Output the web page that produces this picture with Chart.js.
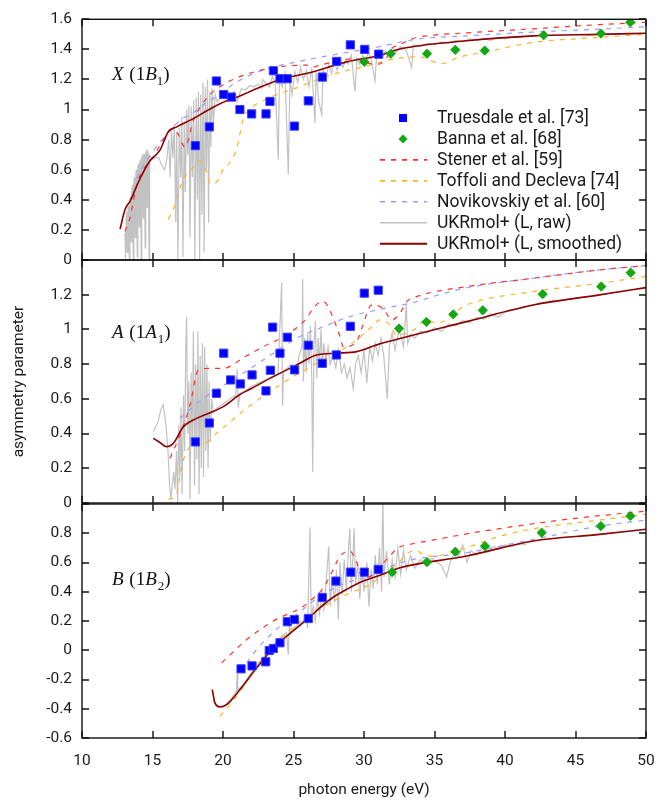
<!DOCTYPE html>
<html>
<head>
<meta charset="utf-8">
<script src="https://cdn.jsdelivr.net/npm/chart.js@4.4.1/dist/chart.umd.min.js"></script>
<style>
  body { margin: 0; background: #fff; }
  #wrap { position: relative; width: 671px; height: 800px; }
  #wrap canvas { position: absolute; left: 0; top: 0; }
</style>
</head>
<body>
<div id="wrap">
  <canvas id="panelX" width="671" height="800"></canvas>
  <canvas id="panelA" width="671" height="800"></canvas>
  <canvas id="panelB" width="671" height="800"></canvas>
</div>
<script>
const seriesLabels = ['Truesdale et al. [73]', 'Banna et al. [68]', 'Stener et al. [59]',
  'Toffoli and Decleva [74]', 'Novikovskiy et al. [60]', 'UKRmol+ (L, raw)', 'UKRmol+ (L, smoothed)'];
const xTicks = [10, 15, 20, 25, 30, 35, 40, 45, 50];
const rangeX = [0, 1.6];
const rangeA = [0, 1.4];
const rangeB = [-0.6, 1.0];

// ---- X (1B1) panel ----
const truesdaleX = [[18.04,0.76],[19.03,0.885],[19.53,1.19],[20.05,1.10],[20.6,1.083],[21.2,1.0],[22.03,0.971],
  [23.05,0.971],[23.33,1.054],[23.57,1.258],[24.04,1.205],[24.56,1.205],[25.06,0.89],[26.05,1.058],
  [27.04,1.216],[28.06,1.32],[29.03,1.43],[30.05,1.40],[31.04,1.368]];
const bannaX = [[30.02,1.317],[31.9,1.371],[34.47,1.371],[36.47,1.397],[38.56,1.392],[42.74,1.494],[46.8,1.505],[48.89,1.58]];
const stenerX = [[13.05,0.19],[13.4,0.28],[13.88,0.5],[14.35,0.6],[14.94,0.67],[15.77,0.8],[16.36,0.87],[16.8,0.84],
  [17.07,0.78],[17.3,0.75],[17.9,0.93],[18.37,1.015],[19.08,1.1],[20.02,1.166],[20.97,1.21],[22.39,1.255],
  [24.04,1.285],[25.94,1.295],[26.3,1.28],[26.7,1.29],[27.82,1.317],[29.24,1.338],[30.0,1.32],[30.43,1.305],
  [30.9,1.30],[31.5,1.33],[32.0,1.41],[32.43,1.425],[33.38,1.47],[34.45,1.49],[37.28,1.51],[42,1.537],[46.7,1.565],[50,1.58]];
const toffoliX = [[16.12,0.27],[16.6,0.367],[17.19,0.54],[17.78,0.604],[18.37,0.659],[18.84,0.583],[19.08,0.507],
  [19.55,0.518],[20.02,0.604],[20.6,0.66],[21.0,0.75],[21.44,0.94],[21.8,0.993],[23.33,1.08],[25.22,1.144],
  [27.59,1.23],[29.95,1.284],[32.3,1.339],[33.97,1.35],[35.0,1.315],[35.6,1.306],[36.5,1.34],[37.28,1.36],
  [38.46,1.38],[42,1.446],[46.7,1.48],[50,1.5]];
const novikX = [[13.88,0.54],[14.35,0.626],[15.77,0.81],[16.95,0.928],[17.9,0.98],[18.84,1.047],[19.79,1.1],
  [20.73,1.17],[22.86,1.263],[25.22,1.317],[27.59,1.36],[30.9,1.414],[33.73,1.468],[37.28,1.49],[42,1.515],
  [46.7,1.535],[50,1.55]];
const rawX = [[13.05,0.18],[13.08,0.0],[13.1,0.02],[13.13,0.28],[13.15,0.32],[13.19,0.1],[13.22,0.05],[13.26,0.34],
  [13.3,0.36],[13.33,0.15],[13.36,0.0],[13.4,0.4],[13.44,0.42],[13.47,0.2],[13.5,0.12],[13.54,0.47],
  [13.58,0.5],[13.61,0.25],[13.64,0.0],[13.68,0.53],[13.72,0.55],[13.75,0.3],[13.78,0.15],[13.82,0.58],
  [13.86,0.6],[13.89,0.3],[13.92,0.02],[13.96,0.62],[14.0,0.63],[14.03,0.4],[14.06,0.22],[14.1,0.65],[14.14,0.66],
  [14.17,0.35],[14.2,0.0],[14.24,0.68],[14.28,0.69],[14.31,0.45],[14.34,0.28],[14.38,0.7],[14.42,0.7],[14.45,0.3],
  [14.48,0.08],[14.52,0.71],[14.56,0.72],[14.59,0.5],[14.62,0.35],[14.66,0.72],[14.7,0.71],[14.73,0.3],[14.76,0.0],
  [14.8,0.68],[14.84,0.69],[15.0,0.67],[15.2,0.68],[15.45,0.68],[15.65,0.63],[15.85,0.6],[16.0,0.66],[16.15,0.8],[16.25,0.55],
  [16.35,0.86],[16.45,0.68],[16.55,0.9],[16.65,0.25],[16.72,0.85],[16.8,0.0],[16.9,0.88],[17.0,0.55],[17.08,0.95],
  [17.16,0.02],[17.25,0.92],[17.33,0.45],[17.42,1.0],[17.5,0.7],[17.58,1.03],[17.66,0.15],[17.75,1.02],[17.83,0.55],
  [17.92,1.06],[18.0,0.0],[18.1,1.08],[18.18,0.4],[18.26,1.12],[18.34,0.0],[18.42,1.1],[18.5,0.3],[18.58,1.18],
  [18.66,0.05],[18.74,1.15],[18.82,0.6],[18.9,1.2],[18.98,0.25],[19.06,1.12],[19.14,0.75],[19.22,1.14],[19.32,0.9],
  [19.45,1.1],[19.6,1.05],[19.8,1.08],[20.0,1.1],[20.2,1.08],[20.5,1.1],[20.8,1.12],[21.0,1.05],[21.3,1.14],
  [21.6,1.13],[21.9,1.16],[22.2,1.15],[22.5,1.17],[22.74,1.14],[22.8,1.2],[23.0,1.18],[23.3,1.15],[23.5,1.22],
  [23.7,1.18],[23.92,0.67],[24.0,1.2],[24.2,1.15],[24.4,1.24],[24.63,0.57],[24.75,1.2],[24.9,1.1],[25.1,1.25],
  [25.3,1.18],[25.5,1.28],[25.7,1.2],[25.9,1.26],[26.1,1.15],[26.3,1.28],[26.52,0.91],[26.6,1.25],[26.8,1.05],
  [27.0,0.97],[27.1,1.27],[27.3,1.2],[27.5,1.3],[27.7,1.24],[27.9,1.32],[28.1,1.26],[28.3,1.34],[28.5,1.28],
  [28.7,1.33],[28.9,1.3],[29.1,1.36],[29.36,1.12],[29.5,1.34],[29.7,1.3],[29.9,1.36],[30.1,1.32],[30.3,1.38],
  [30.5,1.34],[30.78,1.19],[30.9,1.37],[31.1,1.4],[31.3,1.35],[31.5,1.39],[31.8,1.37],[32.0,1.41],[32.3,1.38],
  [32.6,1.42],[33.0,1.39],[33.38,1.28],[33.5,1.43],[34.0,1.42],[34.5,1.44],[35.0,1.43],[35.5,1.45],[36.0,1.44],
  [36.5,1.46],[37.0,1.45],[37.5,1.47],[38.0,1.46],[38.5,1.47],[39.0,1.46],[39.5,1.48],[40.0,1.47],[40.5,1.48],[41.2,1.48]];
const smoothX = [[12.7,0.205],[13.05,0.335],[13.4,0.39],[14.11,0.54],[14.82,0.66],[15.53,0.73],[16.12,0.853],
  [16.72,0.885],[17.9,0.94],[19.08,1.004],[20.26,1.058],[21.2,1.09],[22.15,1.13],[24.04,1.198],[26.4,1.252],
  [28.77,1.317],[31.13,1.36],[32.55,1.403],[37.28,1.457],[42,1.49],[46.7,1.5],[50,1.507]];

// ---- A (1A1) panel ----
const truesdaleA = [[18.04,0.352],[19.03,0.461],[19.53,0.632],[20.05,0.863],[20.54,0.709],[21.23,0.686],[22.06,0.738],
  [23.05,0.646],[23.36,0.765],[23.52,1.013],[24.04,0.863],[24.56,0.955],[25.08,0.767],[26.05,0.909],[27.04,0.805],
  [28.04,0.853],[29.03,1.018],[30.02,1.209],[31.01,1.226]];
const bannaA = [[32.48,1.005],[34.42,1.043],[36.33,1.087],[38.42,1.11],[42.67,1.203],[46.83,1.247],[48.91,1.327]];
const stenerA = [[16.24,0.258],[16.95,0.392],[17.66,0.565],[18.25,0.767],[19.08,0.776],[20.02,0.776],[21.56,0.843],
  [22.86,0.901],[24.28,0.958],[25.94,1.065],[26.29,1.11],[27.0,1.16],[27.3,1.15],[27.82,1.064],[28.3,0.958],
  [28.53,0.9],[29.48,0.93],[29.84,1.007],[30.55,1.141],[31.37,1.12],[31.96,1.055],[32.55,1.093],[33.03,1.16],
  [33.73,1.189],[37.28,1.247],[42,1.295],[46.7,1.343],[50,1.368]];
const toffoliA = [[16.12,0.02],[16.72,0.056],[17.07,0.209],[17.66,0.324],[18.72,0.344],[19.55,0.402],[20.26,0.45],
  [21.68,0.546],[24.04,0.68],[26.4,0.795],[29.0,0.911],[30.43,1.007],[31.13,1.055],[31.84,1.026],[32.3,0.968],
  [33.5,0.997],[34.45,1.055],[35.15,1.036],[37.28,1.141],[42,1.218],[46.7,1.266],[50,1.305]];
const novikA = [[16.95,0.488],[18.6,0.603],[19.31,0.641],[21.68,0.76],[23.21,0.843],[25.22,0.949],[27.12,1.016],
  [29.0,1.074],[31.37,1.12],[33.73,1.16],[34.9,1.19],[37.28,1.24],[42,1.295],[46.7,1.343],[50,1.368]];
const rawA = [[15.06,0.41],[15.4,0.47],[15.6,0.54],[15.77,0.565],[15.95,0.45],[16.1,0.3],[16.2,0.12],[16.3,0.02],
  [16.4,0.1],[16.5,0.18],[16.6,0.08],[16.7,0.3],[16.78,0.0],[16.86,0.45],[16.94,0.15],[17.02,0.55],[17.1,0.05],
  [17.2,0.62],[17.28,0.3],[17.36,0.9],[17.42,1.07],[17.5,0.4],[17.58,0.7],[17.66,0.02],[17.74,0.75],[17.82,0.35],
  [17.9,0.99],[17.98,0.1],[18.06,0.8],[18.14,0.25],[18.22,0.99],[18.3,0.05],[18.38,0.85],[18.46,0.2],[18.54,0.92],
  [18.62,0.15],[18.7,0.9],[18.78,0.3],[18.86,0.8],[18.94,0.2],[19.02,0.7],[19.1,0.35],[19.2,0.6],[19.3,0.52],
  [19.6,0.55],[20.0,0.57],[20.5,0.6],[20.9,0.62],[21.0,0.77],[21.08,0.55],[21.2,0.63],[21.6,0.65],[22.0,0.67],
  [22.5,0.69],[23.0,0.71],[23.5,0.73],[23.9,0.74],[24.16,1.27],[24.22,0.56],[24.3,0.76],[24.6,0.78],[24.9,0.8],
  [25.2,0.76],[25.4,0.85],[25.6,0.9],[25.65,1.29],[25.7,0.7],[25.8,0.95],[25.9,0.75],[26.0,0.98],[26.1,0.8],
  [26.2,1.02],[26.3,0.7],[26.36,0.18],[26.45,0.9],[26.55,1.05],[26.65,0.72],[26.75,0.95],[26.85,0.8],[26.95,1.0],
  [27.05,0.78],[27.15,0.92],[27.3,0.82],[27.45,0.9],[27.6,0.8],[27.8,0.85],[28.0,0.78],[28.2,0.88],[28.4,0.75],
  [28.6,0.8],[28.8,0.72],[29.0,0.78],[29.24,0.66],[29.4,0.8],[29.6,0.85],[29.8,0.75],[30.0,0.88],[30.2,0.69],
  [30.4,0.9],[30.6,0.82],[30.8,0.92],[31.0,0.85],[31.2,0.95],[31.4,0.85],[31.65,0.6],[31.8,0.9],[32.0,0.98],
  [32.2,0.88],[32.5,1.0],[32.8,0.9],[33.0,1.14],[33.1,0.92],[33.3,0.97],[33.6,0.95],[34.0,0.99],[34.5,0.98],
  [35.0,1.01],[35.5,0.99],[36.0,1.03],[36.5,1.02],[37.0,1.05],[37.5,1.04],[38.0,1.07],[38.5,1.06],[39.0,1.09],
  [39.5,1.07],[40.0,1.1],[40.5,1.11],[41.0,1.12],[41.5,1.13],[42.0,1.14],[42.5,1.15],[43.0,1.16],[43.6,1.17]];
const smoothA = [[15.06,0.373],[15.5,0.35],[16.0,0.324],[16.48,0.344],[17.19,0.44],[17.9,0.478],[20.02,0.555],
  [21.2,0.625],[21.91,0.655],[23.57,0.728],[25.22,0.795],[26.64,0.853],[28.06,0.863],[29.48,0.872],[30.9,0.911],
  [33.03,0.958],[35.39,1.007],[37.28,1.045],[42,1.141],[46.7,1.199],[50,1.241]];

// ---- B (1B2) panel ----
const truesdaleB = [[21.28,-0.127],[22.06,-0.107],[23.03,-0.079],[23.28,-0.002],[23.57,0.012],[24.04,0.051],
  [24.56,0.195],[25.06,0.21],[26.05,0.217],[27.04,0.361],[28.01,0.473],[29.06,0.534],[30.02,0.534],[31.01,0.553]];
const bannaB = [[31.99,0.534],[34.47,0.603],[36.48,0.674],[38.58,0.712],[42.6,0.804],[46.8,0.849],[48.89,0.918]];
const stenerB = [[19.91,-0.086],[21.68,0.073],[23.57,0.2],[25.7,0.3],[26.29,0.347],[27.12,0.427],[27.82,0.553],
  [28.3,0.644],[29.0,0.678],[29.48,0.6],[29.84,0.507],[30.3,0.5],[31.0,0.56],[31.72,0.633],[32.43,0.701],
  [33.26,0.724],[35.15,0.758],[37.04,0.792],[38.94,0.822],[44.37,0.895],[50,0.952]];
const toffoliB = [[19.79,-0.452],[20.97,-0.315],[22.39,-0.11],[24.04,0.073],[25.94,0.233],[27.59,0.325],
  [28.77,0.382],[30.43,0.45],[31.37,0.518],[32.55,0.61],[33.2,0.67],[33.73,0.678],[34.3,0.65],[34.91,0.644],
  [37.28,0.701],[39.64,0.78],[42,0.83],[46.7,0.89],[50,0.93]];
const novikB = [[21.68,-0.086],[22.39,0.005],[24.04,0.164],[25.22,0.245],[26.88,0.37],[28.77,0.462],[30.43,0.507],
  [32.55,0.599],[37.28,0.667],[42,0.758],[46.7,0.849],[50,0.89]];
const rawB = [[19.3,-0.34],[19.5,-0.38],[19.8,-0.385],[20.2,-0.37],[20.6,-0.33],[20.95,-0.28],[21.0,-0.16],
  [21.05,-0.27],[21.4,-0.24],[21.8,-0.18],[22.2,-0.13],[22.6,-0.08],[23.0,-0.03],[23.4,0.02],[23.8,0.06],
  [24.2,0.1],[24.5,0.12],[24.63,-0.03],[24.7,0.165],[24.8,0.12],[25.1,0.16],[25.4,0.18],[25.7,0.2],[25.9,0.24],
  [26.0,0.15],[26.17,0.84],[26.25,0.22],[26.4,0.3],[26.55,0.2],[26.7,0.35],[26.85,0.25],[27.0,0.4],[27.15,0.28],
  [27.3,0.45],[27.5,0.71],[27.6,0.3],[27.75,0.5],[27.9,0.33],[28.05,0.55],[28.18,0.21],[28.3,0.6],[28.45,0.38],
  [28.6,0.62],[28.75,0.4],[28.9,0.7],[29.0,0.83],[29.1,0.4],[29.3,0.83],[29.4,0.45],[29.55,0.6],[29.7,0.35],
  [29.85,0.55],[30.0,0.4],[30.2,0.6],[30.35,0.3],[30.5,0.55],[30.65,0.42],[30.8,0.65],[30.95,0.45],[31.1,0.7],
  [31.25,0.4],[31.33,1.05],[31.42,0.5],[31.6,0.68],[31.8,0.45],[32.0,0.62],[32.2,0.5],[32.4,0.7],[32.6,0.52],
  [32.8,0.68],[33.0,0.55],[33.3,0.65],[33.6,0.56],[34.0,0.62],[34.4,0.58],[34.8,0.63],[35.2,0.6],[35.5,0.58],
  [35.86,0.5],[36.1,0.6],[36.4,0.66],[36.7,0.64],[37.0,0.72],[37.3,0.6],[37.6,0.68],[38.0,0.65],[38.4,0.7],
  [38.8,0.67],[39.2,0.71],[39.6,0.69],[40.0,0.72],[40.5,0.71],[41.0,0.73],[41.5,0.72]];
const smoothB = [[19.24,-0.269],[19.43,-0.36],[19.79,-0.388],[20.26,-0.372],[21.2,-0.269],[22.39,-0.12],
  [23.57,0.016],[24.52,0.096],[25.94,0.21],[27.59,0.347],[28.77,0.416],[29.95,0.473],[31.13,0.512],[32.55,0.564],
  [37.28,0.644],[42,0.747],[46.7,0.792],[50,0.827]];

const pts = arr => arr.map(([x, y]) => ({x, y}));

const styles = [
  {pointStyle: 'rect', pointRadius: 5.8, backgroundColor: '#0000ff', borderColor: '#4040ff', borderWidth: 1, order: 0},
  {pointStyle: 'rectRot', pointRadius: 4.6, backgroundColor: '#12a812', borderColor: '#12a812', borderWidth: 1, order: 0},
  {showLine: true, pointRadius: 0, borderColor: '#ff3030', borderWidth: 1.2, borderDash: [5, 6], cubicInterpolationMode: 'monotone', order: 2},
  {showLine: true, pointRadius: 0, borderColor: '#f8b52a', borderWidth: 1.2, borderDash: [5, 6], cubicInterpolationMode: 'monotone', order: 2},
  {showLine: true, pointRadius: 0, borderColor: '#9a9aff', borderWidth: 1.2, borderDash: [5, 6], cubicInterpolationMode: 'monotone', order: 2},
  {showLine: true, pointRadius: 0, borderColor: '#c2c2c2', borderWidth: 1.2, tension: 0, order: 3},
  {showLine: true, pointRadius: 0, borderColor: '#8b0000', borderWidth: 1.6, cubicInterpolationMode: 'monotone', order: 1}
];

function makeDatasets(list) {
  return list.map((arr, i) => Object.assign({label: seriesLabels[i], data: pts(arr)}, styles[i]));
}

// box around each panel + inward ticks on all four sides
const framePlugin = {
  id: 'frame',
  afterDraw(chart) {
    const {ctx, chartArea: a} = chart;
    const x = chart.scales.x, y = chart.scales.y;
    ctx.save();
    ctx.strokeStyle = '#111';
    ctx.lineWidth = 1.4;
    ctx.beginPath();
    x.ticks.forEach(t => {
      const px = Math.round(x.getPixelForValue(t.value));
      ctx.moveTo(px, a.bottom); ctx.lineTo(px, a.bottom - 7);
      ctx.moveTo(px, a.top); ctx.lineTo(px, a.top + 7);
    });
    y.ticks.forEach(t => {
      const py = Math.round(y.getPixelForValue(t.value));
      ctx.moveTo(a.left, py); ctx.lineTo(a.left + 7, py);
      ctx.moveTo(a.right, py); ctx.lineTo(a.right - 7, py);
    });
    ctx.stroke();
    ctx.strokeRect(a.left, a.top, a.width, a.height);
    ctx.restore();
  }
};

// state label, e.g. X (1B1)
const labelPlugin = {
  id: 'panelLabel',
  afterDraw(chart, args, opts) {
    const ctx = chart.ctx;
    const serif = '"Liberation Serif", "DejaVu Serif", serif';
    const parts = [
      {t: opts.main, f: 'italic 19px ' + serif, dy: 0},
      {t: ' (1', f: '19px ' + serif, dy: 0},
      {t: opts.sym, f: 'italic 19px ' + serif, dy: 0},
      {t: opts.sub, f: '13px ' + serif, dy: 5},
      {t: ')', f: '19px ' + serif, dy: 0}
    ];
    let x = opts.x;
    ctx.save();
    ctx.fillStyle = '#111';
    ctx.textBaseline = 'alphabetic';
    parts.forEach(p => {
      ctx.font = p.f;
      ctx.fillText(p.t, x, opts.y + p.dy);
      x += ctx.measureText(p.t).width + (p.t === opts.main ? 1 : 0);
    });
    ctx.restore();
  }
};

// legend box inside the top panel
const legendPlugin = {
  id: 'innerLegend',
  afterDraw(chart, args, opts) {
    if (!opts.show) return;
    const ctx = chart.ctx;
    ctx.save();
    chart.data.datasets.forEach((ds, i) => {
      const yy = 118 + i * 20.95;
      if (ds.showLine) {
        ctx.strokeStyle = ds.borderColor;
        ctx.lineWidth = ds.borderWidth + 0.4;
        ctx.setLineDash(ds.borderDash || []);
        ctx.beginPath();
        ctx.moveTo(380, yy); ctx.lineTo(427, yy);
        ctx.stroke();
        ctx.setLineDash([]);
      } else {
        ctx.fillStyle = ds.backgroundColor;
        ctx.beginPath();
        if (ds.pointStyle === 'rect') {
          ctx.rect(399, yy - 4, 8, 8);
        } else {
          ctx.moveTo(403, yy - 4.5); ctx.lineTo(407.5, yy); ctx.lineTo(403, yy + 4.5); ctx.lineTo(398.5, yy);
          ctx.closePath();
        }
        ctx.fill();
      }
      ctx.fillStyle = '#1a1a1a';
      ctx.font = '17.5px Roboto';
      ctx.textBaseline = 'middle';
      ctx.fillText(ds.label, 437, yy + 1);
    });
    ctx.restore();
  }
};

function tickText(v) {
  return String(Math.round(v * 10) / 10);
}

function makePanel(id, datasets, range, top, bottom, opts) {
  const isBottom = opts.xLabels;
  new Chart(document.getElementById(id), {
    type: 'scatter',
    data: {datasets: datasets},
    plugins: [framePlugin, labelPlugin, legendPlugin],
    options: {
      responsive: false,
      animation: false,
      events: [],
      layout: {padding: {top: top, bottom: isBottom ? 0 : 800 - bottom, left: 0, right: 25}},
      scales: {
        x: {
          type: 'linear', min: xTicks[0], max: xTicks[xTicks.length - 1],
          display: isBottom,
          ticks: {stepSize: 5, padding: 14, color: '#1a1a1a', font: {family: 'Roboto', size: 15.5}, maxRotation: 0},
          grid: {display: false, drawTicks: false},
          border: {display: false},
          title: {display: isBottom, text: 'photon energy (eV)', color: '#1a1a1a',
                  font: {family: 'Roboto', size: 15.5}, padding: {top: 0, bottom: 1}},
          afterFit: s => { s.height = isBottom ? 800 - bottom : 0; }
        },
        y: {
          min: range[0], max: range[1],
          ticks: {stepSize: 0.2, padding: 10, color: '#1a1a1a', font: {family: 'Roboto', size: 15.5},
                  callback: v => (opts.hideTop && v > range[1] - 0.01) ? '' : tickText(v)},
          grid: {display: false, drawTicks: false},
          border: {display: false},
          title: {display: !!opts.yTitle, text: opts.yTitle || '', color: '#1a1a1a',
                  font: {family: 'Roboto', size: 15.5}, padding: {top: 10, bottom: 0}},
          afterFit: s => { s.width = 82; }
        }
      },
      plugins: {
        legend: {display: false},
        tooltip: {enabled: false},
        panelLabel: opts.label,
        innerLegend: {show: !!opts.legend}
      }
    }
  });
}

makePanel('panelX', makeDatasets([truesdaleX, bannaX, stenerX, toffoliX, novikX, rawX, smoothX]),
  rangeX, 12, 260, {legend: true, label: {main: 'X', sym: 'B', sub: '1', x: 112, y: 80}});
makePanel('panelA', makeDatasets([truesdaleA, bannaA, stenerA, toffoliA, novikA, rawA, smoothA]),
  rangeA, 260, 503, {hideTop: true, yTitle: 'asymmetry parameter', label: {main: 'A', sym: 'A', sub: '1', x: 112, y: 338}});
makePanel('panelB', makeDatasets([truesdaleB, bannaB, stenerB, toffoliB, novikB, rawB, smoothB]),
  rangeB, 504, 738, {hideTop: true, xLabels: true, label: {main: 'B', sym: 'B', sub: '2', x: 112, y: 585}});
</script>
</body>
</html>
